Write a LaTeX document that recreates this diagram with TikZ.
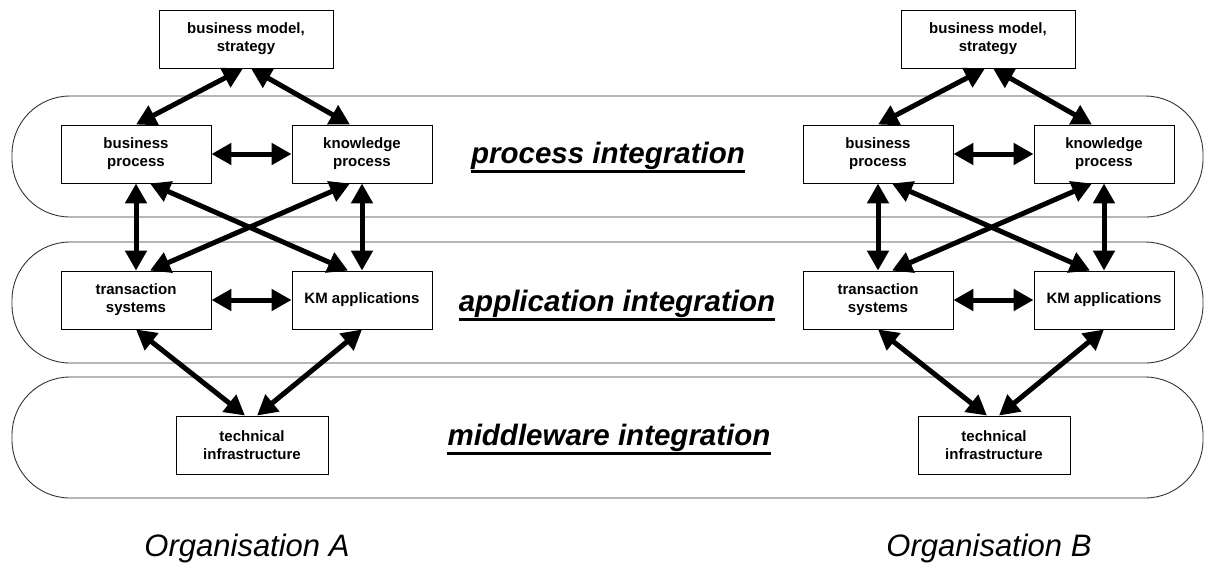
\documentclass[tikz,border=0pt]{standalone}
\usepackage{fontspec}
\setmainfont{Liberation Sans}
\usetikzlibrary{arrows.meta}
\begin{document}
\begin{tikzpicture}[x=1pt,y=-1pt,
  band/.style={draw=black!80, line width=0.9pt, rounded corners=58pt},
  box/.style={draw, line width=0.9pt, fill=white, align=center, inner sep=2pt,
    font=\bfseries\fontsize{15}{18}\selectfont},
  link/.style={line width=5pt,
    {Triangle[length=20pt,width=21pt]}-{Triangle[length=20pt,width=21pt]}},
  layer/.style={inner sep=0pt, anchor=base,
    font=\bfseries\itshape\fontsize{29.5}{34}\selectfont},
  org/.style={inner sep=0pt, font=\itshape\fontsize{31}{36}\selectfont}]
\useasboundingbox (0,0) rectangle (1205,566);

% integration layers
\draw[band] (12,96) rectangle (1203,217);
\draw[band] (12,242) rectangle (1203,363);
\draw[band] (12,377) rectangle (1203,498);

% layer labels with underlines
\node[layer] (lp) at (608,163) {process integration};
\node[layer] (la) at (617,311) {application integration};
\node[layer] (lm) at (609,445) {middleware integration};
\foreach \l in {lp,la,lm}
  \draw[line width=3pt] ([yshift=-8pt]\l.base west) -- ([yshift=-8pt]\l.base east);

% two organisations, same structure
\foreach \o/\dx in {A/0,B/742}{
  \begin{scope}[xshift=\dx]
    \node[box, minimum width=174pt, minimum height=58pt] (bm\o) at (246,39) {business model,\\strategy};
    \node[box, minimum width=150pt, minimum height=58pt] (bp\o) at (136,154) {business\\process};
    \node[box, minimum width=140pt, minimum height=58pt] (kp\o) at (362,154) {knowledge\\process};
    \node[box, minimum width=150pt, minimum height=58pt] (ts\o) at (136,300) {transaction\\systems};
    \node[box, minimum width=140pt, minimum height=58pt] (km\o) at (362,300) {KM applications};
    \node[box, minimum width=152pt, minimum height=58pt] (ti\o) at (252,445) {technical\\infrastructure};
    \node[org] (org\o) at (247,548) {Organisation \o};
  \end{scope}
  \draw[link] ([xshift=-3pt]bm\o.south) -- (bp\o.north);
  \draw[link] ([xshift=5pt]bm\o.south) -- ([xshift=-12pt]kp\o.north);
  \draw[link] (bp\o.east) -- (kp\o.west);
  \draw[link] (bp\o.south) -- (ts\o.north);
  \draw[link] (kp\o.south) -- (km\o.north);
  \draw[link] ([xshift=14pt]bp\o.south) -- ([xshift=-14pt]km\o.north);
  \draw[link] ([xshift=-12pt]kp\o.south) -- ([xshift=14pt]ts\o.north);
  \draw[link] (ts\o.east) -- (km\o.west);
  \draw[link] (ts\o.south) -- ([xshift=-7pt]ti\o.north);
  \draw[link] (km\o.south) -- ([xshift=5pt]ti\o.north);
}
\end{tikzpicture}
\end{document}
